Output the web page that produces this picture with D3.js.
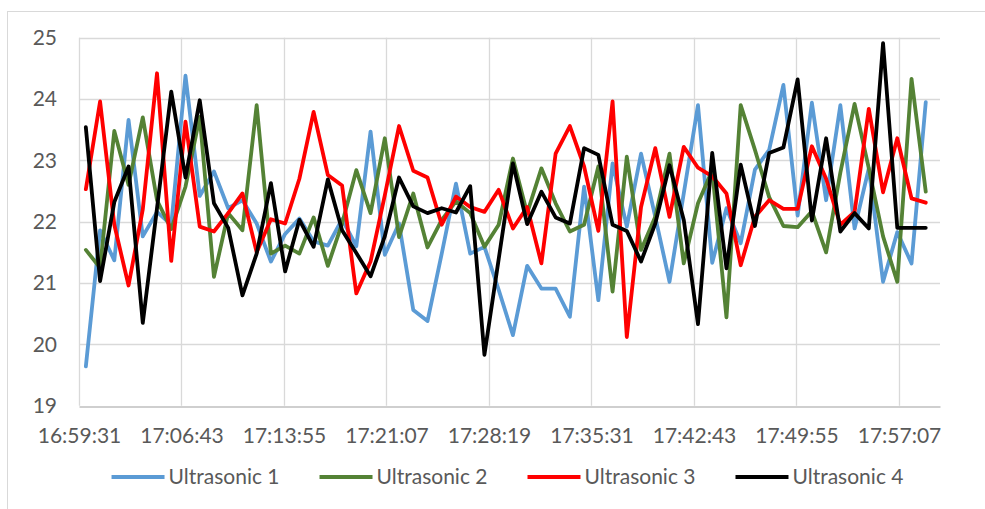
<!DOCTYPE html>
<html><head><meta charset="utf-8">
<script src="https://cdn.jsdelivr.net/npm/d3@7"></script>
<style>html,body{margin:0;padding:0;background:#fff;}svg{display:block;}</style>
</head><body><svg id="c" width="985" height="509"></svg>
<script>
const times = ["17:00","17:01","17:02","17:03","17:04","17:05","17:06","17:07","17:08","17:09",
"17:10","17:11","17:12","17:13","17:14","17:15","17:16","17:17","17:18","17:19",
"17:20","17:21","17:22","17:23","17:24","17:25","17:26","17:27","17:28","17:29",
"17:30","17:31","17:32","17:33","17:34","17:35","17:36","17:37","17:38","17:39",
"17:40","17:41","17:42","17:43","17:44","17:45","17:46","17:47","17:48","17:49",
"17:50","17:51","17:52","17:53","17:54","17:55","17:56","17:57","17:58","17:59"];
const ultrasonic1 = [19.64,21.86,21.37,23.66,21.76,22.16,21.95,24.38,22.42,22.82,
22.22,22.35,21.97,21.35,21.8,22.05,21.68,21.61,22.04,21.6,
23.47,21.46,21.97,20.56,20.38,21.48,22.62,21.48,21.59,20.89,
20.15,21.28,20.91,20.91,20.45,22.57,20.72,22.95,21.92,23.11,
22.08,21.02,22.46,23.9,21.33,22.22,21.65,22.85,23.17,24.23,
22.1,23.94,22.35,23.9,21.89,22.87,21.02,21.83,21.32,23.95];
const ultrasonic2 = [21.54,21.25,23.48,22.6,23.7,22.35,21.88,22.57,23.71,21.1,
22.14,21.86,23.9,21.48,21.61,21.48,22.07,21.28,21.97,22.84,
22.14,23.36,21.75,22.46,21.58,22.03,22.33,22.14,21.59,21.95,
23.03,22.14,22.87,22.3,21.84,21.95,22.9,20.86,23.06,21.54,
22.08,23.11,21.32,22.3,22.84,20.44,23.9,23.17,22.4,21.93,
21.91,22.17,21.5,22.8,23.92,22.87,21.76,21.02,24.33,22.49];
const ultrasonic3 = [22.53,23.96,21.95,20.96,22.2,24.42,21.36,23.63,21.92,21.84,
22.14,22.46,21.5,22.04,21.97,22.7,23.79,22.76,22.59,20.83,
21.35,22.43,23.56,22.83,22.72,21.95,22.41,22.24,22.16,22.52,
21.89,22.24,21.32,23.11,23.56,22.9,21.85,23.96,20.12,22.24,
23.2,22.08,23.22,22.88,22.74,22.46,21.29,22.08,22.35,22.21,
22.21,23.23,22.7,21.95,22.16,23.84,22.48,23.36,22.38,22.31];
const ultrasonic4 = [23.54,21.03,22.32,22.9,20.35,22.22,24.12,22.72,23.98,22.3,
21.9,20.8,21.48,22.63,21.19,22.03,21.59,22.69,21.86,21.49,
21.11,21.76,22.72,22.25,22.14,22.22,22.15,22.58,19.83,21.39,
22.95,21.96,22.49,22.07,21.97,23.2,23.09,21.95,21.85,21.35,
21.97,22.92,22.03,20.33,23.12,21.24,22.93,21.93,23.12,23.21,
24.32,22.02,23.36,21.84,22.14,21.89,24.91,21.9,21.9,21.9];
const seriesNames = ["Ultrasonic 1","Ultrasonic 2","Ultrasonic 3","Ultrasonic 4"];
const seriesColors = ["#5b9bd5","#548235","#ff0000","#000000"];
const yTicks = [19,20,21,22,23,24,25];
const xTickLabels = ["16:59:31","17:06:43","17:13:55","17:21:07","17:28:19","17:35:31","17:42:43","17:49:55","17:57:07"];

const toSec = s => { const p = s.split(":").map(Number); return p[0]*3600 + p[1]*60 + (p[2]||0); };
const xMin = 61171.2, xMax = 64800, step = 432;

const svg = d3.select("#c");
const font = "Lato, 'Open Sans', sans-serif";
const textColor = "#595959";
const fs = "21px";

svg.append("rect").attr("x",7.5).attr("y",11.5).attr("width",1000).attr("height",600)
  .attr("fill","none").attr("stroke","#d9d9d9").attr("stroke-width",1);

const x = d3.scaleLinear().domain([xMin, xMax]).range([79, 940]);
const y = d3.scaleLinear().domain([19, 25]).range([405.7, 37.7]);

const xTickVals = xTickLabels.map((_, i) => xMin + i*step);

svg.append("g").selectAll("line").data(yTicks.filter(d => d > 19)).join("line")
  .attr("x1", x(xMin)).attr("x2", x(xMax))
  .attr("y1", d => Math.round(y(d))+0.5).attr("y2", d => Math.round(y(d))+0.5)
  .attr("stroke","#d9d9d9").attr("stroke-width",1.3);
svg.append("g").selectAll("line").data(xTickVals).join("line")
  .attr("x1", d => Math.round(x(d))+0.5).attr("x2", d => Math.round(x(d))+0.5)
  .attr("y1", y(25)).attr("y2", y(19))
  .attr("stroke","#d9d9d9").attr("stroke-width",1.3);

const xAxis = d3.axisBottom(x).tickValues(xTickVals).tickSize(0).tickPadding(22)
  .tickFormat((d, i) => xTickLabels[i]);
const gx = svg.append("g").attr("transform",`translate(0,${Math.round(y(19))+0.5})`).call(xAxis);
gx.select(".domain").attr("stroke","#bfbfbf").attr("stroke-width",1.3);
gx.selectAll("text").attr("fill",textColor).style("font-family",font).style("font-size",fs);

const yAxis = d3.axisLeft(y).tickValues(yTicks).tickSize(0).tickPadding(22).tickFormat(d3.format("d"));
const gy = svg.append("g").attr("transform",`translate(${x(xMin)},0)`).call(yAxis);
gy.select(".domain").remove();
gy.selectAll("text").attr("fill",textColor).style("font-family",font).style("font-size",fs);

const allSeries = [ultrasonic1, ultrasonic2, ultrasonic3, ultrasonic4];
const line = d3.line().x((d,i) => x(toSec(times[i]))).y(d => y(d));
allSeries.forEach((vals, k) => {
  svg.append("path").datum(vals).attr("d", line)
    .attr("fill","none").attr("stroke", seriesColors[k]).attr("stroke-width",3.8)
    .attr("stroke-linejoin","round").attr("stroke-linecap","round");
});

const leg = svg.append("g");
const legY = 477;
const symLen = 53, gapSym = 4, gapItem = 40;
const items = seriesNames.map((n, k) => {
  const g = leg.append("g");
  g.append("line").attr("x1",0).attr("x2",symLen).attr("y1",legY).attr("y2",legY)
    .attr("stroke",seriesColors[k]).attr("stroke-width",3.8);
  const t = g.append("text").attr("x",symLen+gapSym).attr("y",legY).attr("dy","0.35em")
    .attr("fill",textColor).style("font-family",font).style("font-size",fs).text(n);
  return {g, w: symLen + gapSym + t.node().getComputedTextLength()};
});
const total = d3.sum(items, d => d.w) + gapItem*(items.length-1);
let cx = 507.5 - total/2;
items.forEach(it => { it.g.attr("transform",`translate(${cx},0)`); cx += it.w + gapItem; });
</script></body></html>
